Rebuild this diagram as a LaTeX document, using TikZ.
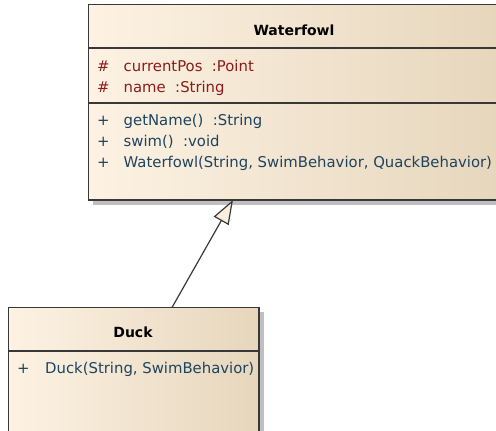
\documentclass[tikz,border=0pt]{standalone}
\usepackage{fontspec}
\setmainfont{DejaVu Sans}
\usetikzlibrary{arrows.meta,shadows}

\definecolor{boxline}{HTML}{383838}
\definecolor{creamleft}{HTML}{FDF2E3}
\definecolor{tanright}{HTML}{E6D6BC}
\definecolor{attrred}{HTML}{8E1A1A}
\definecolor{opblue}{HTML}{1E4460}
\definecolor{headfill}{HTML}{FBEEDC}

\tikzset{
  classbox/.style={draw=boxline, line width=1.8bp, inner sep=0pt, outer sep=0pt,
    left color=creamleft, right color=tanright, shading angle=90,
    drop shadow={shadow xshift=4.5bp, shadow yshift=-4.5bp, fill=black!25, opacity=1}},
  divider/.style={draw=boxline, line width=1.8bp},
  classname/.style={font=\fontsize{14bp}{16bp}\selectfont\bfseries, anchor=base, inner sep=0pt},
  member/.style={font=\fontsize{14.85bp}{16bp}\selectfont, anchor=base west, inner sep=0pt},
  attr/.style={member, text=attrred},
  oper/.style={member, text=opblue},
  generalization/.style={draw=boxline, line width=1.2bp,
    -{Triangle[length=24bp, width=17bp, fill=headfill]}}
}

\begin{document}
\begin{tikzpicture}[x=1bp, y=-1bp]
\useasboundingbox (0,0) rectangle (496,430);

% Waterfowl class
\node[classbox, minimum width=412bp, minimum height=195.5bp] (fowl) at (294.5,102.25) {};
\draw[divider] (fowl.west |- 0,48) -- (fowl.east |- 0,48);
\draw[divider] (fowl.west |- 0,103) -- (fowl.east |- 0,103);
\node[classname] (fowlname) at (294,35) {Waterfowl};
\node[attr] (a1s) at (97,71) {\#};
\node[attr] (a1) at (123.5,71) {currentPos~ :Point};
\node[attr] (a2s) at (97,92) {\#};
\node[attr] (a2) at (123.5,92) {name~ :String};
\node[oper] (m1s) at (97,125) {+};
\node[oper] (m1) at (123.5,125) {getName()~ :String};
\node[oper] (m2s) at (97,146) {+};
\node[oper] (m2) at (123.5,146) {swim()~ :void};
\node[oper] (m3s) at (97,167) {+};
\node[oper] (m3) at (123.5,167) {Waterfowl(String, SwimBehavior, QuackBehavior)};

% Duck class
\node[classbox, minimum width=250.5bp, minimum height=140bp] (duck) at (133.75,377.5) {};
\draw[divider] (duck.west |- 0,351) -- (duck.east |- 0,351);
\node[classname] (duckname) at (133,337) {Duck};
\node[oper] (d1s) at (17,373) {+};
\node[oper] (d1) at (45,373) {Duck(String, SwimBehavior)};

% Duck specialises Waterfowl
\draw[generalization] ([xshift=163.5bp]duck.north west) -- ([xshift=144.5bp]fowl.south west);
\end{tikzpicture}
\end{document}
